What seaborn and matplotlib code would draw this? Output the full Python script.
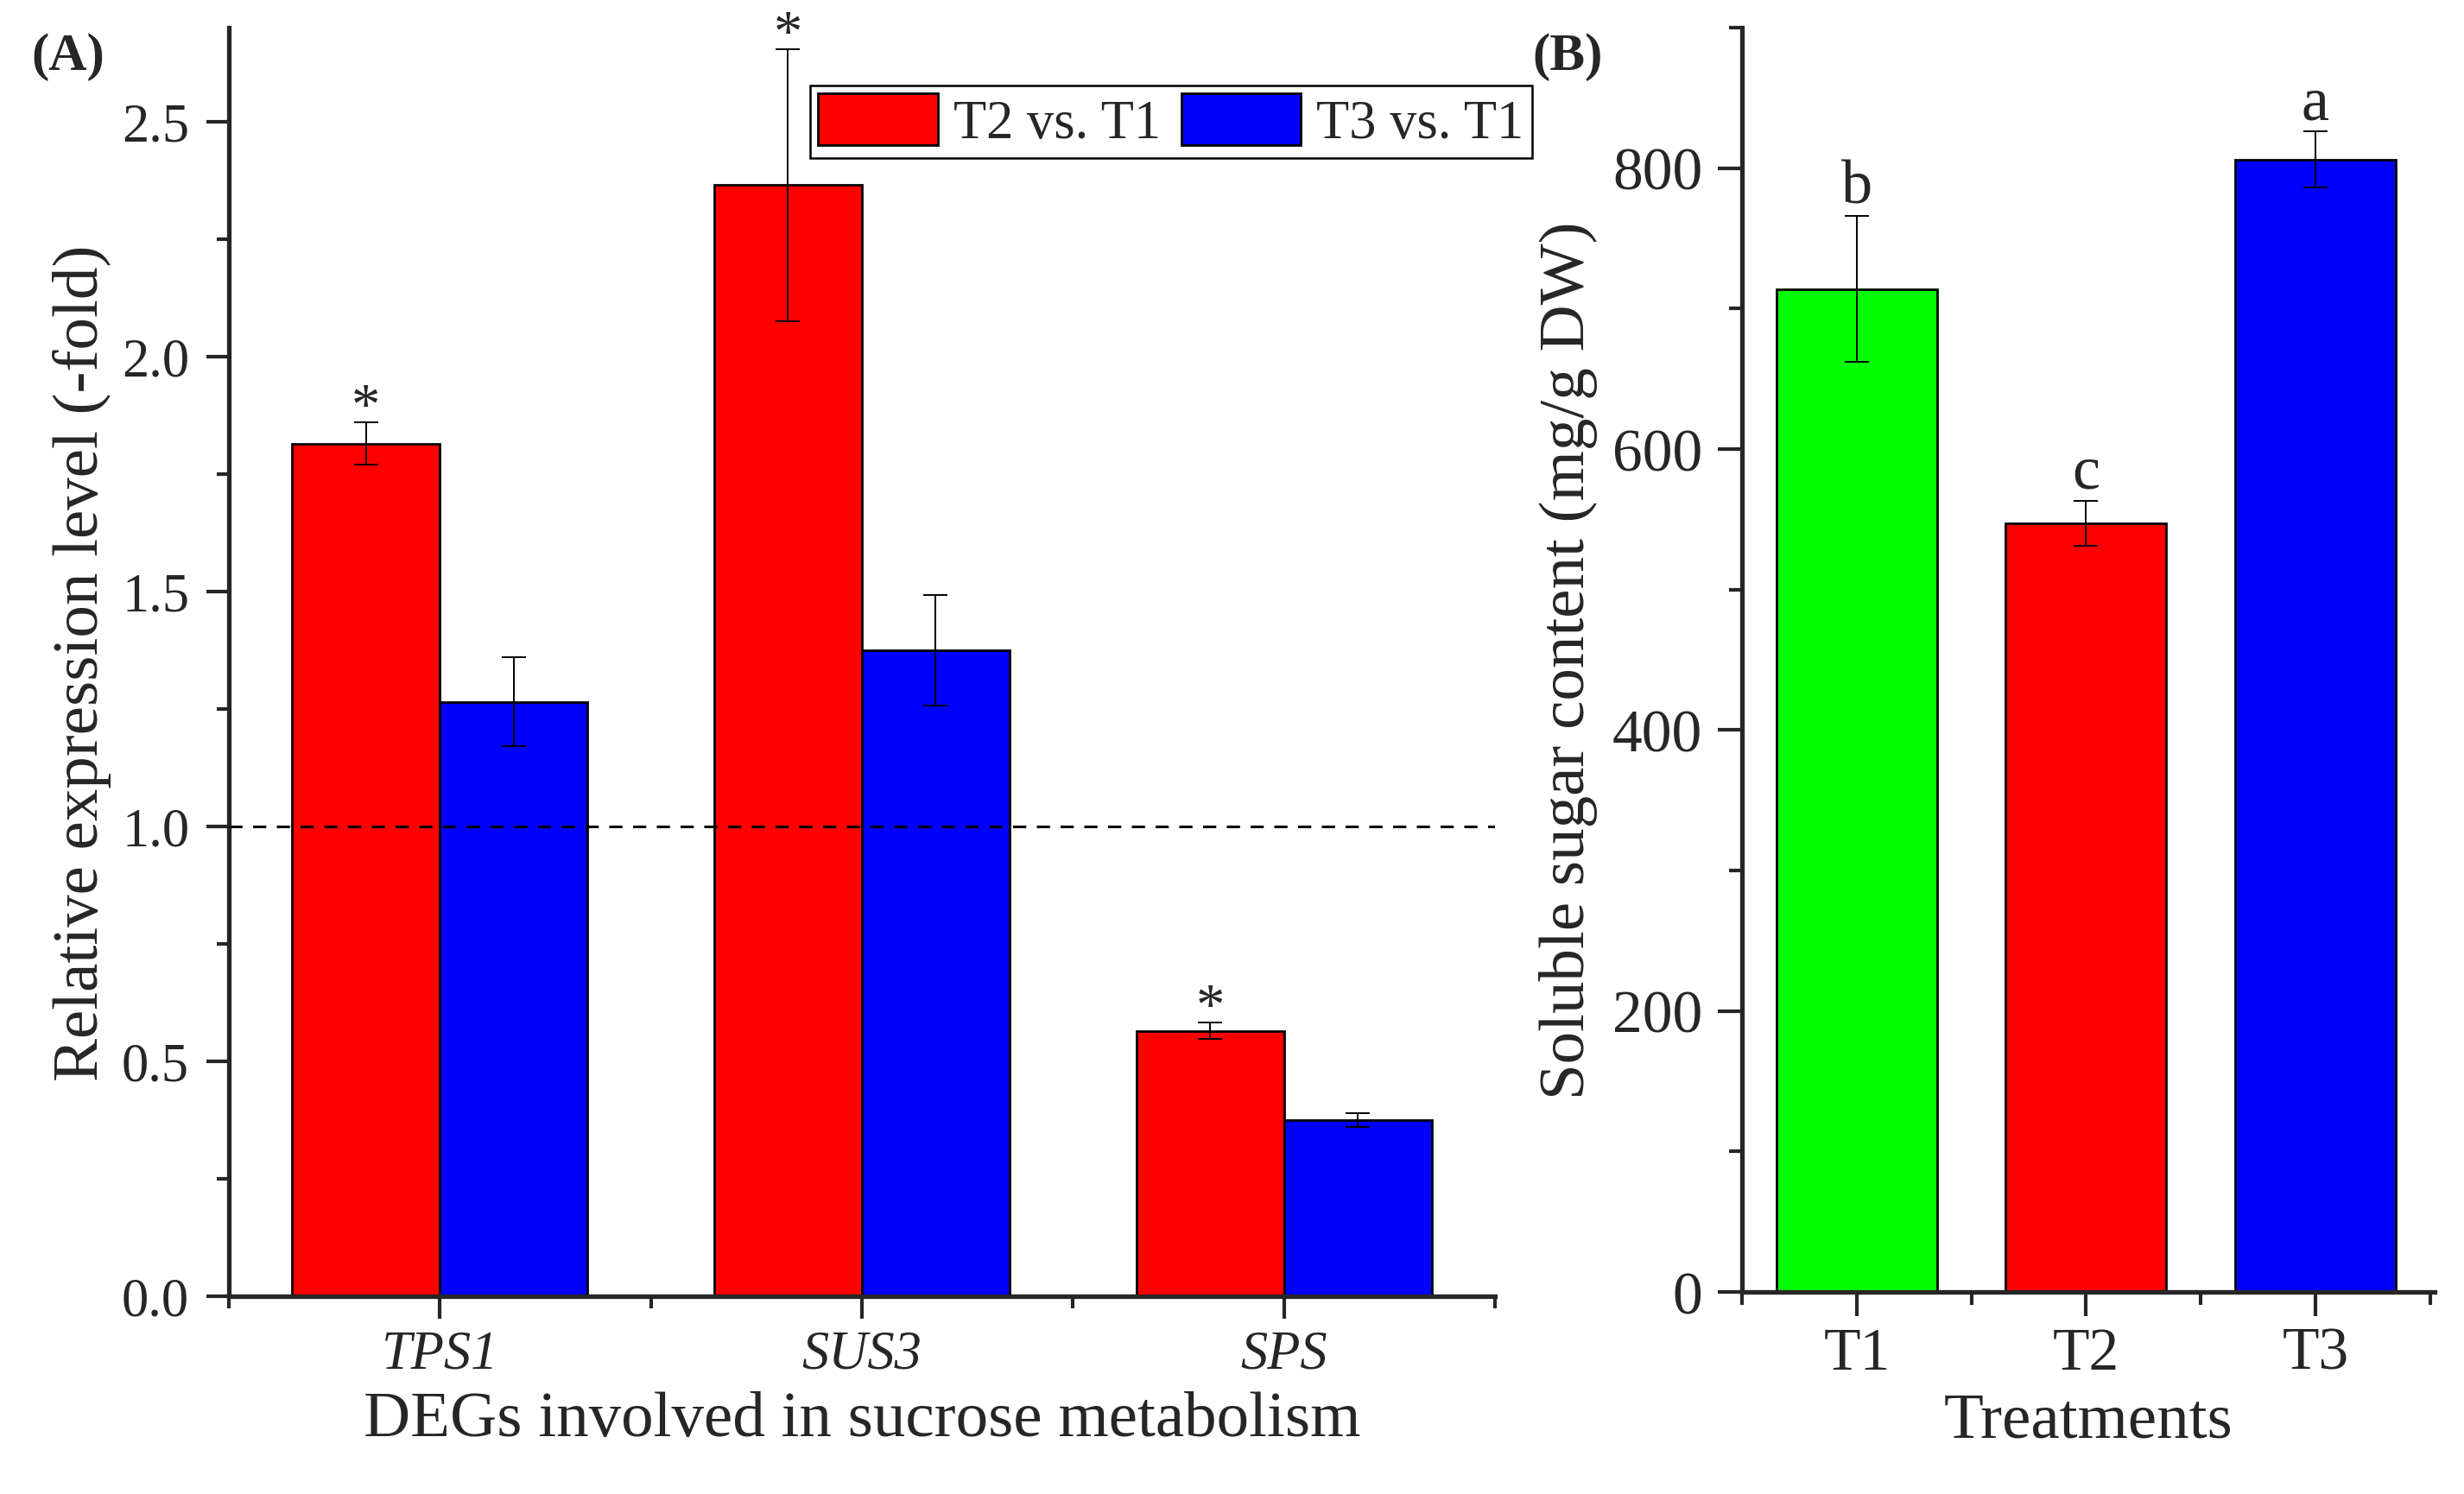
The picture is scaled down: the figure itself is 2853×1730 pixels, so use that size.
import matplotlib
matplotlib.use("Agg")
import matplotlib.pyplot as plt
import seaborn as sns
import pandas as pd
from matplotlib.ticker import MultipleLocator, FixedLocator

# panel A: relative expression of sucrose-metabolism DEGs
genes = ["TPS1", "SUS3", "SPS"]
comparisons = ["T2 vs. T1", "T3 vs. T1"]
t2_fold = [1.815, 2.365, 0.565]
t2_err = [0.045, 0.29, 0.018]
t3_fold = [1.265, 1.375, 0.375]
t3_err = [0.095, 0.118, 0.015]
t2_sig = ["*", "*", "*"]
t3_sig = ["", "", ""]

# panel B: soluble sugar content
treatments = ["T1", "T2", "T3"]
sugar = [714, 547, 806]
sugar_err = [52, 16, 20]
sugar_letters = ["b", "c", "a"]

sns.set_style("ticks")
plt.rcParams["font.family"] = ["Liberation Serif", "DejaVu Serif"]
plt.rcParams["axes.linewidth"] = 3.8

fig = plt.figure(figsize=(28.53, 17.31), dpi=100)
axA = fig.add_axes([0.0929, 0.1323, 0.6067 - 0.0929, 0.9809 - 0.1323])
axB = fig.add_axes([0.7070, 0.1352, 0.9881 - 0.7070, 0.9809 - 0.1352])

# ---- panel A ----
dfA = pd.DataFrame({
    "gene": genes * 2,
    "comparison": [comparisons[0]] * 3 + [comparisons[1]] * 3,
    "fold": t2_fold + t3_fold,
})
sns.barplot(data=dfA, x="gene", y="fold", hue="comparison", hue_order=comparisons,
            palette={comparisons[0]: "#ff0000", comparisons[1]: "#0000ff"},
            saturation=1, width=0.7, edgecolor="black", linewidth=2,
            errorbar=None, ax=axA)

for cont, vals, errs, sigs in zip(axA.containers, [t2_fold, t3_fold],
                                  [t2_err, t3_err], [t2_sig, t3_sig]):
    for bar, v, e, s in zip(cont, vals, errs, sigs):
        xc = bar.get_x() + bar.get_width() / 2
        axA.errorbar(xc, v, yerr=e, color="black", lw=1.4, capsize=10, capthick=1.4)
        if s:
            axA.text(xc, v + e, s, ha="center", va="baseline", fontsize=48)

axA.axhline(1.0, color="black", lw=2.2, ls=(0, (5, 4)), zorder=3)
axA.set_xlim(-0.5, 2.5)
axA.set_ylim(0, 2.7)
axA.yaxis.set_major_locator(MultipleLocator(0.5))
axA.yaxis.set_minor_locator(MultipleLocator(0.25))
axA.xaxis.set_minor_locator(FixedLocator([-0.5, 0.5, 1.5, 2.5]))
axA.yaxis.set_major_formatter(matplotlib.ticker.FormatStrFormatter("%.1f"))
axA.set_xticks(range(len(genes)))
axA.set_xticklabels(genes, fontstyle="italic")
axA.set_xlabel("DEGs involved in sucrose metabolism", fontsize=54, labelpad=9)
axA.set_ylabel("Relative expression level (-fold)", fontsize=54, labelpad=9)
axA.tick_params(axis="both", which="major", labelsize=45, length=19, width=3, pad=9)
axA.tick_params(axis="y", which="major", pad=14)
axA.tick_params(axis="both", which="minor", length=10, width=3)
sns.despine(ax=axA)

handles, labels = axA.get_legend_handles_labels()
axA.legend(handles, labels, loc="upper left", bbox_to_anchor=(938 / 2853, 1 - 100 / 1731),
           bbox_transform=fig.transFigure, ncol=2, fontsize=45, frameon=True,
           fancybox=False, edgecolor="black", framealpha=1, handlelength=2.22,
           handleheight=1.09, handletextpad=0.29, columnspacing=0.37, borderpad=0.15,
           borderaxespad=0)
axA.get_legend().get_frame().set_linewidth(1.8)

# ---- panel B ----
dfB = pd.DataFrame({"treatment": treatments, "sugar": sugar})
sns.barplot(data=dfB, x="treatment", y="sugar", hue="treatment",
            palette=["#00ff00", "#ff0000", "#0000ff"], saturation=1, width=0.7,
            edgecolor="black", linewidth=2, errorbar=None, legend=False, ax=axB)

for bar, v, e, s in zip(axB.patches, sugar, sugar_err, sugar_letters):
    xc = bar.get_x() + bar.get_width() / 2
    axB.errorbar(xc, v, yerr=e, color="black", lw=1.4, capsize=10, capthick=1.4)
    axB.annotate(s, (xc, v + e), xytext=(0, 11), textcoords="offset points",
                 ha="center", va="baseline", fontsize=52)

axB.set_xlim(-0.5, 2.52)
axB.set_ylim(0, 900)
axB.yaxis.set_major_locator(MultipleLocator(200))
axB.yaxis.set_minor_locator(MultipleLocator(100))
axB.xaxis.set_minor_locator(FixedLocator([-0.5, 0.5, 1.5, 2.5]))
axB.set_xlabel("Treatments", fontsize=54, labelpad=9)
axB.set_ylabel("Soluble sugar content (mg/g DW)", fontsize=54, labelpad=12)
axB.tick_params(axis="both", which="major", labelsize=50, length=20, width=3, pad=9)
axB.tick_params(axis="y", which="major", pad=13)
axB.tick_params(axis="both", which="minor", length=11, width=3)
sns.despine(ax=axB)

fig.text(36 / 2853, 1 - 38 / 1731, "(A)", fontsize=44, fontweight="bold", ha="left", va="top")
fig.text(1774 / 2853, 1 - 38 / 1731, "(B)", fontsize=44, fontweight="bold", ha="left", va="top")

fig.savefig("out.png", dpi=100)
